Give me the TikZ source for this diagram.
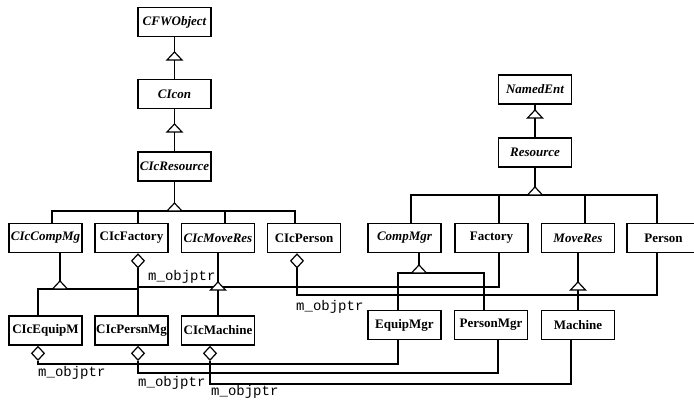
\documentclass[tikz,border=0pt]{standalone}
\usepackage{fontspec}
\setmainfont{Liberation Serif}
\setmonofont{Liberation Mono}
\usetikzlibrary{shapes.geometric}
\pgfdeclarelayer{bg}
\pgfsetlayers{bg,main}
\begin{document}
\begin{tikzpicture}[x=1pt,y=-1pt,
  cls/.style={draw,line width=1.5pt,minimum width=73pt,minimum height=29pt,inner sep=0pt,
    font={\fontsize{13}{15}\selectfont\bfseries}},
  acls/.style={cls,font={\fontsize{13}{15}\selectfont\bfseries\itshape}},
  link/.style={line width=1.6pt},
  agg/.style={diamond,draw,fill=white,line width=1.2pt,minimum width=13pt,minimum height=14pt,inner sep=0pt},
  role/.style={anchor=west,inner sep=0pt,font={\fontsize{14}{16}\selectfont\ttfamily}},
  inhtri/.pic={\draw[line width=1.2pt,fill=white] (0,0) -- (7.5,8) -- (-7.5,8) -- cycle;
    \coordinate (-apex) at (0,0); \coordinate (-base) at (0,8);}
]
\useasboundingbox (0,0) rectangle (694,403);

% classes
\node[acls] (cfw)     at (174.5,22)    {CFWObject};
\node[acls] (icon)    at (174.5,94)    {CIcon};
\node[acls] (icres)   at (174.5,166.5) {CIcResource};
\node[acls] (named)   at (535,89.5)    {NamedEnt};
\node[acls] (res)     at (535,152.5)   {Resource};
\node[acls] (iccomp)  at (45.5,238)    {CIcCompMg};
\node[cls]  (icfac)   at (131.5,238)   {CIcFactory};
\node[acls] (icmove)  at (218,238)     {CIcMoveRes};
\node[cls]  (icpers)  at (304,238)     {CIcPerson};
\node[acls] (compmgr) at (404.5,238)   {CompMgr};
\node[cls]  (factory) at (491.5,238)   {Factory};
\node[acls] (moveres) at (578,238)     {MoveRes};
\node[cls]  (person)  at (663.5,238)   {Person};
\node[cls]  (icequip) at (45.5,330.5)  {CIcEquipM};
\node[cls]  (icpersn) at (131.5,330.5) {CIcPersnMg};
\node[cls]  (icmach)  at (218,330.5)   {CIcMachine};
\node[cls]  (equip)   at (404.5,325)   {EquipMgr};
\node[cls]  (persmgr) at (491,325)     {PersonMgr};
\node[cls]  (machine) at (578,325)     {Machine};

% generalization triangles
\pic (t1) at (174.5,52)  {inhtri};
\pic (t2) at (174.5,124) {inhtri};
\pic (t3) at (535,110)   {inhtri};
\pic (t4) at (535,187)   {inhtri};
\pic (t5) at (174.5,203) {inhtri};
\pic (t6) at (60,281)    {inhtri};
\pic (t7) at (419,265)   {inhtri};
\pic (t8) at (218,282)   {inhtri};
\pic (t9) at (578,282)   {inhtri};

% aggregation diamonds
\node[agg,anchor=north] (a1) at ([xshift=6.5pt]icfac.south)   {};
\node[agg,anchor=north] (a2) at ([xshift=-7pt]icpers.south)   {};
\node[agg,anchor=north] (a3) at ([xshift=-7.5pt]icequip.south) {};
\node[agg,anchor=north] (a4) at ([xshift=6.5pt]icpersn.south) {};
\node[agg,anchor=north] (a5) at ([xshift=-8pt]icmach.south)   {};

% attachment points
\coordinate (dcm)  at ([xshift=6.5pt]compmgr.north);
\coordinate (dfa)  at ([xshift=7.5pt]factory.north);
\coordinate (dmv)  at ([xshift=7pt]moveres.north);
\coordinate (dpe)  at ([xshift=-6.5pt]person.north);
\coordinate (dic1) at ([xshift=6.5pt]iccomp.north);
\coordinate (dic2) at ([xshift=6.5pt]icfac.north);
\coordinate (dic3) at ([xshift=7pt]icmove.north);
\coordinate (dic4) at ([xshift=-9pt]icpers.north);
\coordinate (ucm)  at ([xshift=14.5pt]compmgr.south);
\coordinate (uic)  at ([xshift=14.5pt]iccomp.south);
\coordinate (deq)  at ([xshift=-6.5pt]equip.north);
\coordinate (dpm)  at ([xshift=-7pt]persmgr.north);
\coordinate (dieq) at ([xshift=-7.5pt]icequip.north);
\coordinate (dipm) at ([xshift=6.5pt]icpersn.north);
\coordinate (rfa)  at ([xshift=7.5pt]factory.south);
\coordinate (rpe)  at ([xshift=-6.5pt]person.south);
\coordinate (req)  at ([xshift=-6.5pt]equip.south);
\coordinate (rpm)  at ([xshift=7pt]persmgr.south);
\coordinate (rma)  at ([xshift=-7pt]machine.south);

\begin{pgfonlayer}{bg}
  % inheritance
  \draw[link] (cfw) -- (t1-apex);  \draw[link] (t1-base) -- (icon);
  \draw[link] (icon) -- (t2-apex); \draw[link] (t2-base) -- (icres);
  \draw[link] (named) -- (t3-apex); \draw[link] (t3-base) -- (res);
  \draw[link] (res) -- (t4-apex);
  \draw[link] (dcm) |- (t4-base) -| (dpe);
  \draw[link] (dfa) -- (dfa |- t4-base);
  \draw[link] (dmv) -- (dmv |- t4-base);
  \draw[link] (icres) -- (t5-apex);
  \draw[link] (dic1) |- (t5-base) -| (dic4);
  \draw[link] (dic2) -- (dic2 |- t5-base);
  \draw[link] (dic3) -- (dic3 |- t5-base);
  \draw[link] (uic) -- (t6-apex);
  \draw[link] (dieq) |- (t6-base) -| (dipm);
  \draw[link] (ucm) -- (t7-apex);
  \draw[link] (deq) |- (t7-base) -| (dpm);
  \draw[link] (icmove) -- (t8-apex); \draw[link] (t8-base) -- (icmach);
  \draw[link] (moveres) -- (t9-apex); \draw[link] (t9-base) -- (machine);
  % aggregation
  \draw[link] (a1.south) -- ++(0,18.5) -| (rfa);
  \draw[link] (a2.south) -- ++(0,26.5) -| (rpe);
  \draw[link] (a3.south) -- ++(0,3) -| (req);
  \draw[link] (a4.south) -- ++(0,12) -| (rpm);
  \draw[link] (a5.south) -- ++(0,23) -| (rma);
\end{pgfonlayer}

% role names
\node[role] (l1) at (148,277) {m\_objptr};
\node[role] (l2) at (296,307) {m\_objptr};
\node[role] (l3) at (38,373)  {m\_objptr};
\node[role] (l4) at (138,383) {m\_objptr};
\node[role] (l5) at (211,392) {m\_objptr};
\end{tikzpicture}
\end{document}
